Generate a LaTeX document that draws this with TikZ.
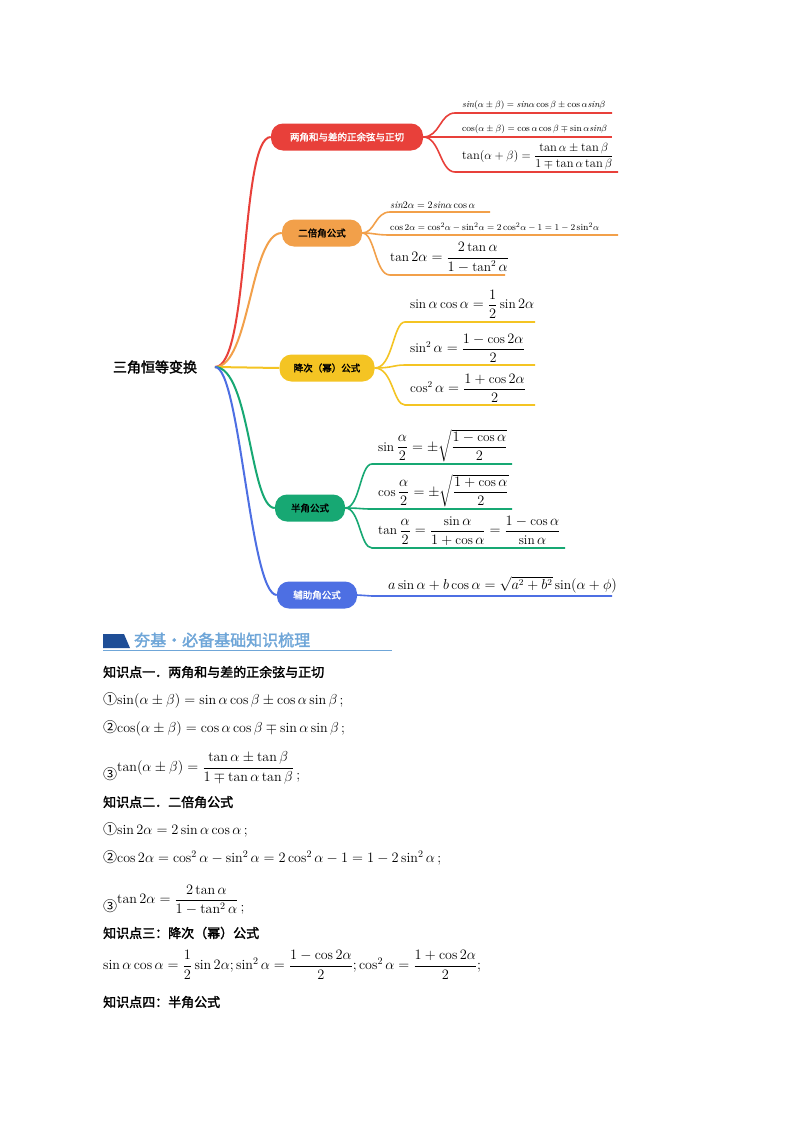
\documentclass[tikz,border=0pt]{standalone}
\usepackage{amsmath,amssymb}
\usepackage{fontspec}
\newfontfamily\cjk{Noto Sans CJK SC}[AutoFakeBold=2]
\definecolor{cred}{HTML}{E8403A}
\definecolor{corg}{HTML}{F2A04A}
\definecolor{cyel}{HTML}{F4C423}
\definecolor{cgrn}{HTML}{17A873}
\definecolor{cblu}{HTML}{4D6FE3}
\definecolor{hdark}{HTML}{1F4E96}
\definecolor{hlight}{HTML}{6FA6D8}
\begin{document}
\begin{tikzpicture}[x=1pt,y=-1pt,
  topic/.style={rounded corners=12pt,minimum height=27pt,text=black,font=\cjk\bfseries\fontsize{9.5}{10}\selectfont,inner xsep=8pt},
  br/.style={line width=2pt},
  sb/.style={line width=1.6pt},
  fs/.style={anchor=south west,inner sep=1pt,font=\fontsize{9.2}{10}\selectfont},
  fm/.style={anchor=south west,inner sep=1pt,font=\fontsize{12.5}{13}\selectfont},
  fl/.style={anchor=south west,inner sep=1pt,font=\fontsize{13.3}{14}\selectfont},
  txt/.style={anchor=west,inner sep=0pt,font=\fontsize{14}{16}\selectfont},
  kp/.style={anchor=west,inner sep=0pt,font=\cjk\bfseries\fontsize{13}{15}\selectfont}]
\useasboundingbox[fill=white] (0,0) rectangle (800,1132);
\node[font=\cjk\bfseries\fontsize{14}{16}\selectfont] (root) at (155,367) {三角恒等变换};
\coordinate (rt) at (215,367);
% topics
\node[topic,fill=cred,text=white,minimum width=152pt] (t1) at (347,137) {两角和与差的正余弦与正切};
\node[topic,fill=corg,minimum width=80pt] (t2) at (322,233) {二倍角公式};
\node[topic,fill=cyel,minimum width=95pt] (t3) at (327,368) {降次（幂）公式};
\node[topic,fill=cgrn,minimum width=70pt] (t4) at (310,508) {半角公式};
\node[topic,fill=cblu,text=white,minimum width=80pt] (t5) at (317,595) {辅助角公式};
\draw[br,cred] (rt) .. controls (250,367) and (240,137) .. (t1.west);
\draw[br,corg] (rt) .. controls (250,367) and (250,233) .. (t2.west);
\draw[br,cyel] (rt) -- (t3.west);
\draw[br,cgrn] (rt) .. controls (250,367) and (250,508) .. (t4.west);
\draw[br,cblu] (rt) .. controls (240,367) and (250,595) .. (t5.west);
% red
\foreach \y/\xe in {113/612,137/612,172/618}{\coordinate (p) at (455,\y); \draw[sb,cred] (t1.east) .. controls (440,137) and (440,\y) .. (p) -- (\xe,\y);}
\node[fs] (r1) at (461,111) {$\mathit{sin}(\alpha\pm\beta)=\mathit{sin}\alpha\cos\beta\pm\cos\alpha\mathit{sin}\beta$};
\node[fs] (r2) at (461,135) {$\cos(\alpha\pm\beta)=\cos\alpha\cos\beta\mp\sin\alpha\mathit{sin}\beta$};
\node[fm] (r3) at (461,171) {$\tan(\alpha+\beta)=\dfrac{\tan\alpha\pm\tan\beta}{1\mp\tan\alpha\tan\beta}$};
% orange
\foreach \y/\xe in {212/490,235/618,275/505}{\coordinate (p) at (390,\y); \draw[sb,corg] (t2.east) .. controls (375,233) and (375,\y) .. (p) -- (\xe,\y);}
\node[fs,font=\fontsize{10}{11}\selectfont] (o1) at (389,210) {$\mathit{sin}2\alpha=2\mathit{sin}\alpha\cos\alpha$};
\node[fs,font=\fontsize{9.4}{10}\selectfont] (o2) at (389,233) {$\cos2\alpha=\cos^2\!\alpha-\sin^2\!\alpha=2\cos^2\!\alpha-1=1-2\sin^2\!\alpha$};
\node[fl] (o3) at (389,274) {$\tan2\alpha=\dfrac{2\tan\alpha}{1-\tan^2\alpha}$};
% yellow
\foreach \y in {322,365,405}{\coordinate (p) at (405,\y); \draw[sb,cyel] (t3.east) .. controls (393,368) and (393,\y) .. (p) -- (535,\y);}
\node[fl] (y1) at (409,320) {$\sin\alpha\cos\alpha=\dfrac12\sin2\alpha$};
\node[fl] (y2) at (409,364) {$\sin^2\alpha=\dfrac{1-\cos2\alpha}{2}$};
\node[fl] (y3) at (409,404) {$\cos^2\alpha=\dfrac{1+\cos2\alpha}{2}$};
% green
\foreach \y/\xe in {464/512,509/512,548/565}{\coordinate (p) at (372,\y); \draw[sb,cgrn] (t4.east) .. controls (360,508) and (360,\y) .. (p) -- (\xe,\y);}
\node[fl] (g1) at (377,463) {$\sin\dfrac{\alpha}{2}=\pm\sqrt{\dfrac{1-\cos\alpha}{2}}$};
\node[fl] (g2) at (377,508) {$\cos\dfrac{\alpha}{2}=\pm\sqrt{\dfrac{1+\cos\alpha}{2}}$};
\node[fl] (g3) at (377,547) {$\tan\dfrac{\alpha}{2}=\dfrac{\sin\alpha}{1+\cos\alpha}=\dfrac{1-\cos\alpha}{\sin\alpha}$};
% blue
\coordinate (k1) at (372,596); \coordinate (l1) at (612,596);
\draw[sb,cblu] (t5.east) -- (k1) -- (l1);
\node[fm,font=\fontsize{13.5}{14}\selectfont] (b1) at (387,594) {$a\sin\alpha+b\cos\alpha=\sqrt{a^2+b^2}\sin(\alpha+\phi)$};
% bottom section
\fill[hdark] (103,634) -- (124,634) -- (130,648) -- (103,648) -- cycle;
\node[anchor=west,inner sep=0pt,text=hlight,font=\cjk\bfseries\fontsize{16}{18}\selectfont] (hd) at (134,640) {夯基·必备基础知识梳理};
\draw[hlight,line width=0.8pt] (103,650) -- (392,650);
\node[kp] (k1t) at (103,672) {知识点一．两角和与差的正余弦与正切};
\node[txt] (q1) at (103,700) {{\cjk ①}$\sin(\alpha\pm\beta)=\sin\alpha\cos\beta\pm\cos\alpha\sin\beta$\,;};
\node[txt] (q2) at (103,728) {{\cjk ②}$\cos(\alpha\pm\beta)=\cos\alpha\cos\beta\mp\sin\alpha\sin\beta$\,;};
\node[txt] (q3) at (103,768) {{\cjk ③}\raisebox{8pt}{$\tan(\alpha\pm\beta)=\dfrac{\tan\alpha\pm\tan\beta}{1\mp\tan\alpha\tan\beta}$}\,;};
\node[kp] (k2t) at (103,802) {知识点二．二倍角公式};
\node[txt] (q4) at (103,830) {{\cjk ①}$\sin2\alpha=2\sin\alpha\cos\alpha$\,;};
\node[txt] (q5) at (103,858) {{\cjk ②}$\cos2\alpha=\cos^2\alpha-\sin^2\alpha=2\cos^2\alpha-1=1-2\sin^2\alpha$\,;};
\node[txt] (q6) at (103,900) {{\cjk ③}\raisebox{8pt}{$\tan2\alpha=\dfrac{2\tan\alpha}{1-\tan^2\alpha}$}\,;};
\node[kp] (k3t) at (103,933) {知识点三：降次（幂）公式};
\node[txt] (q7) at (103,965) {$\sin\alpha\cos\alpha=\dfrac12\sin2\alpha;\sin^2\alpha=\dfrac{1-\cos2\alpha}{2};\cos^2\alpha=\dfrac{1+\cos2\alpha}{2};$};
\node[kp] (k4t) at (103,1002) {知识点四：半角公式};
\end{tikzpicture}
\end{document}
